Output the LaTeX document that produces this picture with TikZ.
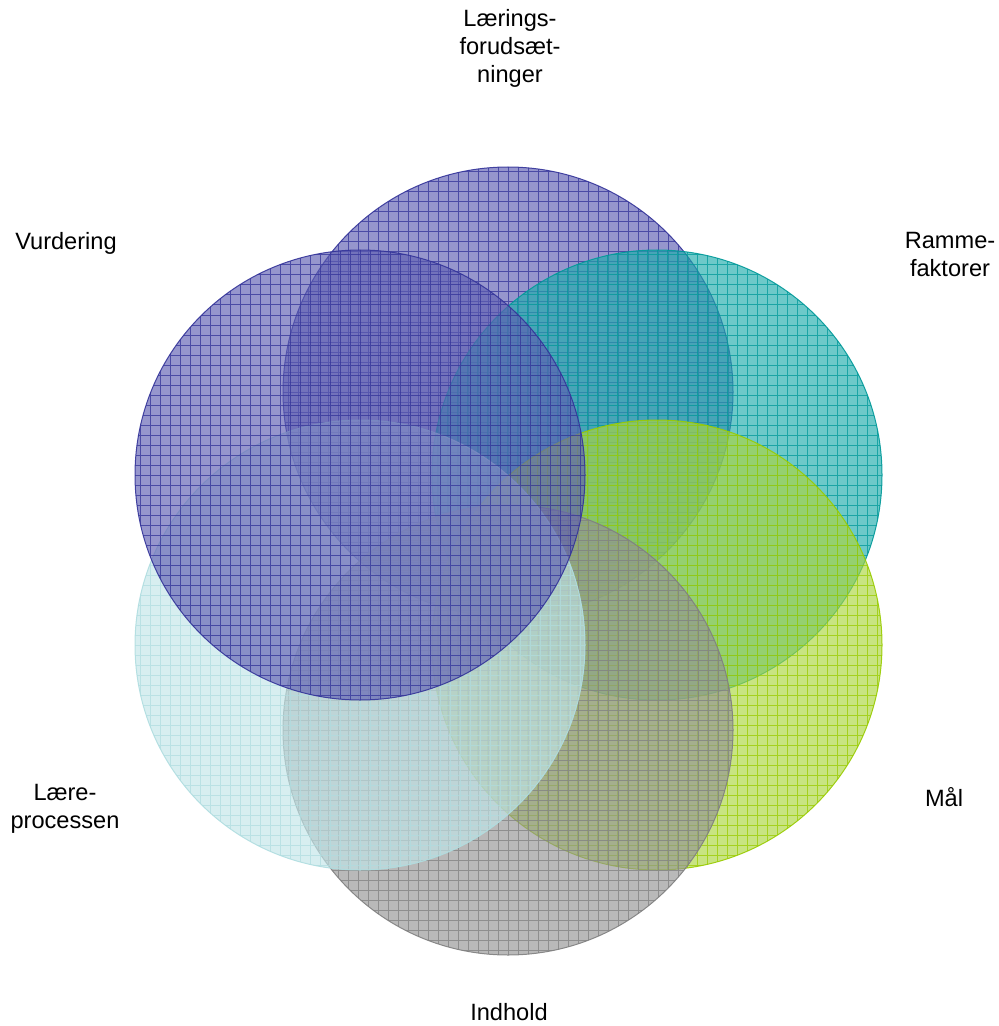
\documentclass[tikz,border=0pt]{standalone}
\usepackage{fontspec}
\setmainfont{Liberation Sans}
\definecolor{blueA}{RGB}{94,94,178}
\definecolor{blueL}{RGB}{51,51,153}
\definecolor{tealA}{RGB}{30,172,172}
\definecolor{tealL}{RGB}{0,153,153}
\definecolor{greenA}{RGB}{171,213,63}
\definecolor{greenL}{RGB}{153,204,0}
\definecolor{grayA}{RGB}{147,147,147}
\definecolor{grayL}{RGB}{128,128,128}
\definecolor{cyanA}{RGB}{193,229,232}
\definecolor{cyanL}{RGB}{176,221,224}
\begin{document}
\begin{tikzpicture}[x=0.5pt,y=-0.5pt,line cap=round,line join=round,
  ring/.style 2 args={circle,minimum size=225pt,inner sep=0pt,fill=#1,fill opacity=0.65,
    draw=#2,draw opacity=0.9,line width=0.5pt,
    path picture={\draw[#2,draw opacity=0.75,line width=0.5pt,step=5pt]
      (path picture bounding box.south west) grid (path picture bounding box.north east);}},
  lbl/.style={align=center,font=\fontsize{11.8}{14}\selectfont}]
\useasboundingbox (0,0) rectangle (998,1026);
% circles
\node[ring={blueA}{blueL}] (forud) at (508,392) {};
\node[ring={tealA}{tealL}] (ramme) at (657,475) {};
\node[ring={greenA}{greenL}] (maal) at (657,645) {};
\node[ring={grayA}{grayL}] (indhold) at (508,730) {};
\node[ring={cyanA}{cyanL}] (laere) at (360,645) {};
\node[ring={blueA}{blueL}] (vurd) at (360,475) {};
% labels
\node[lbl] (forudlbl) at (510,48) {Lærings-\\forudsæt-\\ninger};
\node[lbl] (rammelbl) at (950,254) {Ramme-\\faktorer};
\node[lbl] (maallbl) at (944,797) {Mål};
\node[lbl] (indholdlbl) at (509,1012) {Indhold};
\node[lbl] (laerelbl) at (65,809) {Lære-\\processen};
\node[lbl] (vurdlbl) at (66,243) {Vurdering};
\end{tikzpicture}
\end{document}
